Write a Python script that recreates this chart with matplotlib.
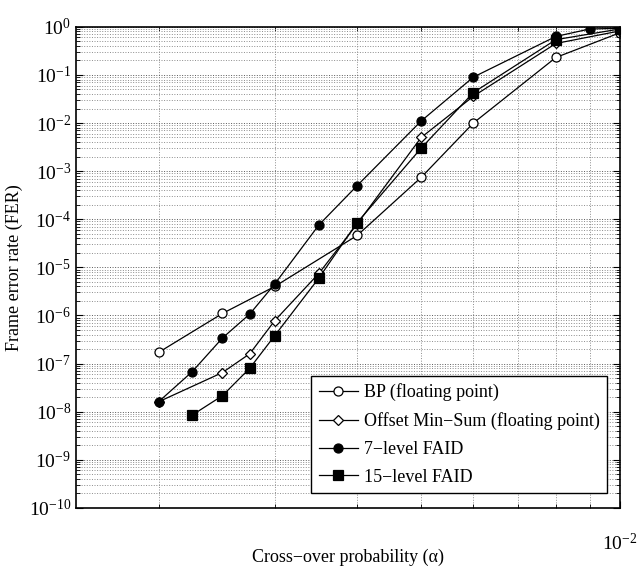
#!/usr/bin/env python3
"""FER vs cross-over probability for BP, offset min-sum and FAID decoders."""
import numpy as np
import matplotlib
matplotlib.use("Agg")
import matplotlib.pyplot as plt
from matplotlib.ticker import LogLocator, NullFormatter, FixedLocator

plt.rcParams["font.family"] = ["Liberation Serif", "DejaVu Serif"]
plt.rcParams["mathtext.fontset"] = "stix"

# alpha values and frame error rates
bp_x = [0.002, 0.0025, 0.003, 0.004, 0.005, 0.006, 0.008, 0.01]
bp_y = [1.7e-7, 1.1e-6, 4.0e-6, 4.6e-5, 7.4e-4, 1.0e-2, 0.23, 0.75]

oms_x = [0.002, 0.0025, 0.00275, 0.003, 0.0035, 0.004, 0.005, 0.006, 0.008, 0.01]
oms_y = [1.6e-8, 6.5e-8, 1.6e-7, 7.8e-7, 7.5e-6, 8.0e-5, 5.0e-3, 3.6e-2, 0.45, 0.82]

f7_x = [0.002, 0.00225, 0.0025, 0.00275, 0.003, 0.0035, 0.004, 0.005, 0.006, 0.008, 0.009, 0.01]
f7_y = [1.6e-8, 6.8e-8, 3.4e-7, 1.07e-6, 4.5e-6, 7.6e-5, 5.0e-4, 1.1e-2, 0.09, 0.63, 0.9, 0.93]

f15_x = [0.00225, 0.0025, 0.00275, 0.003, 0.0035, 0.004, 0.005, 0.006, 0.008, 0.01]
f15_y = [8.5e-9, 2.15e-8, 8.0e-8, 3.8e-7, 6.0e-6, 8.5e-5, 3.0e-3, 4.3e-2, 0.54, 0.9]

labels = ["BP (floating point)", "Offset Min\u2212Sum (floating point)",
          "7\u2212level FAID", "15\u2212level FAID"]

fig = plt.figure(figsize=(6.39, 5.70), dpi=100)
ax = fig.add_axes([0.119, 0.109, 0.851, 0.844])

kw = dict(color="black", lw=0.9, ms=6.5, mec="black", mew=0.9)
ax.plot(bp_x, bp_y, marker="o", mfc="white", label=labels[0], **kw)
ax.plot(oms_x, oms_y, marker="D", mfc="white", label=labels[1], **{**kw, "ms": 5})
ax.plot(f7_x, f7_y, marker="o", mfc="black", label=labels[2], **kw)
ax.plot(f15_x, f15_y, marker="s", mfc="black", label=labels[3], **kw)

ax.set_xscale("log")
ax.set_yscale("log")
ax.set_xlim(0.0015, 0.01)
ax.set_ylim(1e-10, 1)

ax.xaxis.set_major_locator(FixedLocator([0.01]))
ax.xaxis.set_minor_locator(FixedLocator(np.arange(2, 10) * 1e-3))
ax.xaxis.set_minor_formatter(NullFormatter())
ax.yaxis.set_major_locator(LogLocator(base=10, numticks=12))
ax.yaxis.set_minor_locator(LogLocator(base=10, subs=np.arange(2, 10), numticks=12))
ax.yaxis.set_minor_formatter(NullFormatter())

ax.grid(True, which="major", ls=":", lw=0.7, color="0.35")
ax.grid(True, which="minor", ls=":", lw=0.7, color="0.55")
ax.tick_params(which="both", direction="in", top=True, right=True, labelsize=14)
ax.tick_params(which="major", length=5)
ax.tick_params(which="minor", length=3)
ax.tick_params(axis="x", pad=18)
for s in ax.spines.values():
    s.set_linewidth(1.2)

ax.set_xlabel("Cross\u2212over probability (\u03b1)", fontsize=13)
ax.xaxis.set_label_coords(0.5, -0.084)
ax.set_ylabel("Frame error rate (FER)", fontsize=13, labelpad=4)

leg = ax.legend(loc="lower right", bbox_to_anchor=(0.976, 0.031), borderaxespad=0,
                fontsize=13, fancybox=False, framealpha=1, edgecolor="black",
                labelspacing=0.6, handlelength=2.2, handletextpad=0.3,
                borderpad=0.4)
leg.get_frame().set_linewidth(1.0)

fig.savefig("out.png", dpi=100)
